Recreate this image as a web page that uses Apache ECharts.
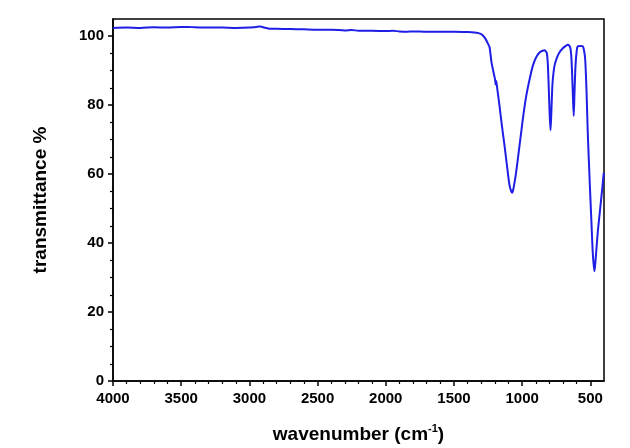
<!DOCTYPE html>
<html>
<head>
<meta charset="utf-8">
<script src="https://cdn.jsdelivr.net/npm/echarts@6/dist/echarts.min.js"></script>
<style>
html,body{margin:0;padding:0;background:#fff;}
#main{width:630px;height:448px;}
</style>
</head>
<body>
<div id="main"></div>
<script>
// FTIR spectrum, values
var wavenumber=[4000,3900,3800,3700,3600,3500,3450,3400,3300,3200,3100,3000,2950,2920,2880,2850,2800,2700,2600,2500,
	2400,2300,2250,2200,2100,2000,1950,1900,1850,1800,1700,1600,1500,1400,1350,1320,1300,1288,1270,1250,
	1239,1225,1215,1205,1198,1195,1192,1188,1180,1166,1150,1129,1110,1093,1080,1073,1065,1055,1044,1025,
	1007,990,970,945,922,900,873,850,836,820,812,805,798,792,786,780,775,763,745,727,
	700,680,666,655,646,638,630,622,616,609,600,592,575,556,547,538,528,519,505,494,
	482,470,462,446,432,421,410,402];
var transmittance=[102.4,102.5,102.4,102.6,102.5,102.7,102.7,102.6,102.5,102.5,102.4,102.5,102.7,102.8,102.4,102.2,102.2,102.1,102.0,101.9,
	101.9,101.7,101.8,101.6,101.6,101.5,101.6,101.4,101.3,101.4,101.3,101.3,101.3,101.2,101.1,100.9,100.6,100.2,99.3,97.8,
	96.8,92.5,90.5,88.6,87.3,86.0,87.1,86.5,84.0,79.8,74.5,68.2,62.0,56.8,55.0,54.6,55.6,57.8,60.6,66.5,
	72.2,77.5,82.7,87.6,91.4,93.7,95.3,95.8,95.9,95.2,92.0,85.0,77.0,72.7,78.0,84.5,87.6,91.4,93.8,95.3,
	96.6,97.2,97.5,97.3,96.5,93.0,85.0,76.9,84.0,91.4,95.8,97.1,97.2,97.1,96.0,93.4,84.0,72.0,58.0,47.8,
	37.0,31.8,35.0,43.0,48.5,52.7,57.0,60.4];

var xTicks=[4000,3500,3000,2500,2000,1500,1000,500];
var yTicks=[0,20,40,60,80,100];
var xMinor=[3900,3800,3700,3600,3400,3300,3200,3100,2900,2800,2700,2600,2400,2300,2200,2100,
	1900,1800,1700,1600,1400,1300,1200,1100,900,800,700,600];
var yMinor=[5,10,15,25,30,35,45,50,55,65,70,75,85,90,95];

var chart=echarts.init(document.getElementById('main'));
var lbl={color:'#000',fontFamily:'Liberation Sans',fontWeight:'bold',fontSize:15,formatter:function(v){return String(v);}};
var seriesData=[];
for(var i=0;i<wavenumber.length;i++){
	seriesData.push([wavenumber[i],transmittance[i]]);
}

var option={
	animation:false,
	backgroundColor:'#fff',
	grid:{left:113,right:26,top:19,bottom:67,outerBoundsMode:'none',containLabel:false,
		show:true,borderColor:'#000',borderWidth:1.5,backgroundColor:'transparent'},
	xAxis:[{
		type:'value',inverse:true,min:400,max:4000,
		name:'wavenumber (cm{sup|-1})',nameLocation:'middle',nameGap:42,
		nameTextStyle:{color:'#000',fontFamily:'Liberation Sans',fontWeight:'bold',fontSize:19,lineHeight:24,
			rich:{sup:{fontFamily:'Liberation Sans',fontWeight:'bold',fontSize:11,lineHeight:11,verticalAlign:'top'}}},
		axisLine:{show:true,lineStyle:{color:'#000',width:1.5}},
		axisTick:{show:true,length:5,lineStyle:{color:'#000',width:1.5},customValues:xTicks},
		axisLabel:Object.assign({margin:10,customValues:xTicks},lbl),
		splitLine:{show:false}
	},{
		type:'value',inverse:true,min:400,max:4000,position:'bottom',
		axisLine:{show:false},
		axisTick:{show:true,length:3,lineStyle:{color:'#000',width:1.2},customValues:xMinor},
		axisLabel:{show:false,customValues:xMinor},
		splitLine:{show:false}
	}],
	yAxis:[{
		type:'value',min:0,max:105,
		name:'transmittance %',nameLocation:'middle',nameGap:63,
		nameTextStyle:{color:'#000',fontFamily:'Liberation Sans',fontWeight:'bold',fontSize:19},
		axisLine:{show:true,lineStyle:{color:'#000',width:1.5}},
		axisTick:{show:true,length:5,lineStyle:{color:'#000',width:1.5},customValues:yTicks},
		axisLabel:Object.assign({margin:9,customValues:yTicks},lbl),
		splitLine:{show:false}
	},{
		type:'value',min:0,max:105,position:'left',
		axisLine:{show:false},
		axisTick:{show:true,length:3,lineStyle:{color:'#000',width:1.2},customValues:yMinor},
		axisLabel:{show:false,customValues:yMinor},
		splitLine:{show:false}
	}],
	series:[{
		type:'line',
		data:seriesData,
		showSymbol:false,
		smooth:0.25,
		lineStyle:{color:'#1e1ee6',width:2},
		itemStyle:{color:'#1e1ee6'}
	}]
};
chart.setOption(option);
</script>
</body>
</html>
